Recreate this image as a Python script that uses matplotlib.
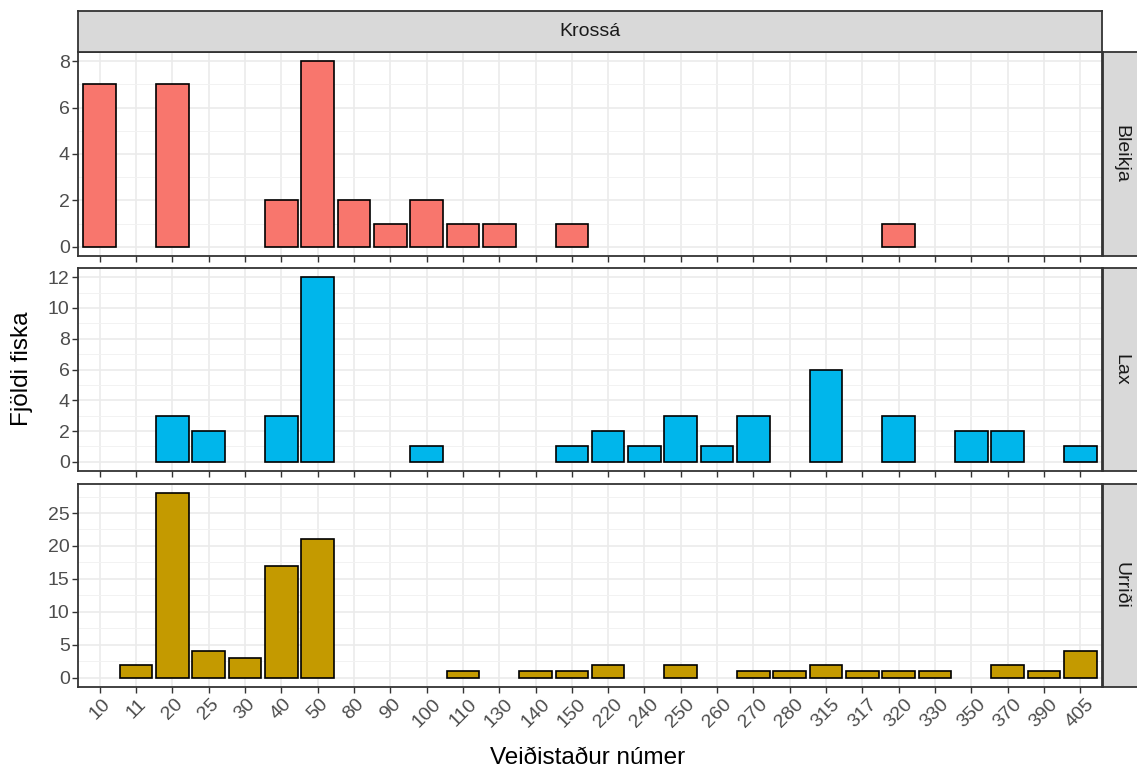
import numpy as np
import matplotlib
matplotlib.use('Agg')
import matplotlib.pyplot as plt
from matplotlib.ticker import MultipleLocator

plt.rcParams['font.family'] = ['Liberation Sans', 'DejaVu Sans']

sites = ['10', '11', '20', '25', '30', '40', '50', '80', '90', '100', '110', '130', '140', '150',
         '220', '240', '250', '260', '270', '280', '315', '317', '320', '330', '350', '370', '390', '405']
bleikja = [7, 0, 7, 0, 0, 2, 8, 2, 1, 2, 1, 1, 0, 1, 0, 0, 0, 0, 0, 0, 0, 0, 1, 0, 0, 0, 0, 0]
lax = [0, 0, 3, 2, 0, 3, 12, 0, 0, 1, 0, 0, 0, 1, 2, 1, 3, 1, 3, 0, 6, 0, 3, 0, 2, 2, 0, 1]
urridi = [0, 2, 28, 4, 3, 17, 21, 0, 0, 0, 1, 0, 1, 1, 2, 0, 2, 0, 1, 1, 2, 1, 1, 1, 0, 2, 1, 4]

species = ['Bleikja', 'Lax', 'Urriði']
counts = [bleikja, lax, urridi]
colors = ['#F8766D', '#00B6EB', '#C49A00']
major = [2, 2, 5]

W, H = 1137, 769
fig = plt.figure(figsize=(W / 100, H / 100), dpi=100)

def px(l, t, r, b):
    return [l / W, 1 - b / H, (r - l) / W, (b - t) / H]

left, right = 78, 1102
rows = [(52, 256), (268, 471), (484, 687)]
edge = '#333333'
x = np.arange(len(sites))

for i, (top, bot) in enumerate(rows):
    ax = fig.add_axes(px(left, top, right, bot))
    v = np.array(counts[i])
    m = v > 0
    ax.bar(x[m], v[m], width=0.9, color=colors[i], edgecolor='black', linewidth=1.2, zorder=3)
    ymax = v.max()
    ax.set_ylim(-0.05 * ymax, ymax * 1.05)
    ax.set_xlim(-0.6, len(sites) - 0.4)
    ax.yaxis.set_major_locator(MultipleLocator(major[i]))
    ax.yaxis.set_minor_locator(MultipleLocator(major[i] / 2))
    ax.set_xticks(x)
    ax.grid(True, which='major', color='#EBEBEB', linewidth=1.2, zorder=0)
    ax.grid(True, which='minor', axis='y', color='#F2F2F2', linewidth=0.7, zorder=0)
    ax.set_axisbelow(True)
    for s in ax.spines.values():
        s.set_color(edge)
        s.set_linewidth(1.3)
    ax.tick_params(axis='both', which='major', length=4, width=1.0, color=edge,
                   labelsize=14, labelcolor='#4D4D4D', pad=2)
    ax.tick_params(axis='y', which='minor', length=0)
    if i == len(rows) - 1:
        ax.set_xticklabels(sites, rotation=45, ha='center', va='top')
    else:
        ax.set_xticklabels([])

    # facet strip on the right
    sax = fig.add_axes(px(right + 1, top, right + 44, bot))
    sax.set_facecolor('#D9D9D9')
    sax.set_xticks([]); sax.set_yticks([])
    for s in sax.spines.values():
        s.set_color(edge)
        s.set_linewidth(1.3)
    sax.text(0.42, 0.5, species[i], rotation=-90, ha='center', va='center',
             fontsize=14, color='#1A1A1A', transform=sax.transAxes)

# facet strip on top
tax = fig.add_axes(px(left, 11, right, 52))
tax.set_facecolor('#D9D9D9')
tax.set_xticks([]); tax.set_yticks([])
for s in tax.spines.values():
    s.set_color(edge)
    s.set_linewidth(1.3)
tax.text(0.5, 0.5, 'Krossá', ha='center', va='center', fontsize=14, color='#1A1A1A',
         transform=tax.transAxes)

fig.text(22 / W, 1 - 369 / H, 'Fjöldi fiska', rotation=90, ha='center', va='center',
         fontsize=17.5, color='black')
fig.text(588 / W, 1 - 764 / H, 'Veiðistaður númer', ha='center', va='baseline',
         fontsize=17.5, color='black')

fig.savefig('out.png', dpi=100)
